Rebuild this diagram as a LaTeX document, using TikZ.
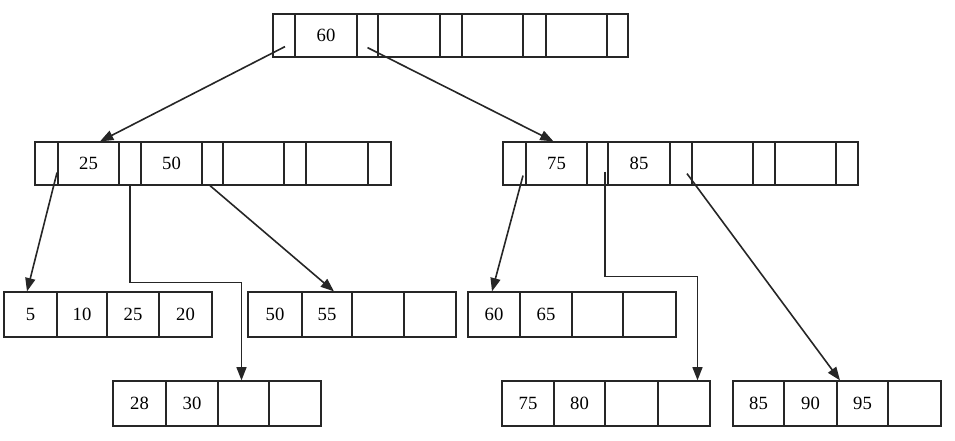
\documentclass[tikz,border=0pt]{standalone}
\usepackage{fontspec}
\setmainfont{Liberation Serif}
\usetikzlibrary{arrows.meta}
\tikzset{
  cell/.style = {rectangle, draw=black!85, line width=0.9pt, inner sep=0pt,
                 minimum height=32.25pt, font=\fontsize{14}{16}\selectfont},
  leaf/.style = {cell, minimum height=33.75pt},
  ptr/.style  = {-{Triangle[length=10pt,width=7.5pt]}, line width=1.2pt, draw=black!85},
}
\begin{document}
\begin{tikzpicture}[x=0.75pt, y=-0.75pt]
  \useasboundingbox (0,0) rectangle (955,440);

  % Root node
  \foreach \a/\b/\t [count=\i] in {273/295/{}, 295/357/60, 357/378/{}, 378/440/{},
      440/462/{}, 462/523/{}, 523/546/{}, 546/607/{}, 607/628/{}}
    \node[cell, minimum width={(\b-\a)*0.75pt}] (r\i) at ({(\a+\b)/2},35.5) {\t};

  % Second level
  \foreach \a/\b/\t [count=\i] in {35/58/{}, 58/119/25, 119/141/{}, 141/202/50,
      202/223/{}, 223/284/{}, 284/306/{}, 306/368/{}, 368/391/{}}
    \node[cell, minimum width={(\b-\a)*0.75pt}] (a\i) at ({(\a+\b)/2},163.5) {\t};
  \foreach \a/\b/\t [count=\i] in {503/526/{}, 526/587/75, 587/608/{}, 608/670/85,
      670/692/{}, 692/753/{}, 753/775/{}, 775/836/{}, 836/858/{}}
    \node[cell, minimum width={(\b-\a)*0.75pt}] (b\i) at ({(\a+\b)/2},163.5) {\t};

  % Leaves, upper row
  \foreach \a/\b/\t [count=\i] in {4/57/5, 57/107/10, 107/159/25, 159/212/20}
    \node[leaf, minimum width={(\b-\a)*0.75pt}] (la\i) at ({(\a+\b)/2},314.5) {\t};
  \foreach \a/\b/\t [count=\i] in {248/302/50, 302/352/55, 352/404/{}, 404/456/{}}
    \node[leaf, minimum width={(\b-\a)*0.75pt}] (lb\i) at ({(\a+\b)/2},314.5) {\t};
  \foreach \a/\b/\t [count=\i] in {468/520/60, 520/572/65, 572/623/{}, 623/676/{}}
    \node[leaf, minimum width={(\b-\a)*0.75pt}] (lc\i) at ({(\a+\b)/2},314.5) {\t};

  % Leaves, lower row
  \foreach \a/\b/\t [count=\i] in {113/166/28, 166/218/30, 218/269/{}, 269/321/{}}
    \node[leaf, minimum width={(\b-\a)*0.75pt}] (ld\i) at ({(\a+\b)/2},403.5) {\t};
  \foreach \a/\b/\t [count=\i] in {502/554/75, 554/605/80, 605/658/{}, 658/710/{}}
    \node[leaf, minimum width={(\b-\a)*0.75pt}] (le\i) at ({(\a+\b)/2},403.5) {\t};
  \foreach \a/\b/\t [count=\i] in {733/784/85, 784/837/90, 837/888/95, 888/941/{}}
    \node[leaf, minimum width={(\b-\a)*0.75pt}] (lf\i) at ({(\a+\b)/2},403.5) {\t};

  % Root pointers
  \draw[ptr] ([shift={(1,-11)}]r1.south) -- ([shift={(11.5,0)}]a2.north);
  \draw[ptr] ([shift={(0,-10)}]r3.south) -- ([shift={(-3,0)}]b2.north);

  % Left node pointers
  \draw[ptr] ([shift={(10.5,-13)}]a1.south) -- ([shift={(-3.5,0)}]la1.north);
  \draw[ptr] (a3.south) -- ++(0,97) -| ([shift={(-2,0)}]ld3.north);
  \draw[ptr] ([shift={(-2.5,0)}]a5.south) -- ([shift={(7,0)}]lb2.north);

  % Right node pointers
  \draw[ptr] ([shift={(8.5,-10)}]b1.south) -- ([shift={(-2,0)}]lc1.north);
  \draw[ptr] ([shift={(7.5,-14)}]b3.south) -- ++(0,105) -| ([shift={(13.5,0)}]le4.north);
  \draw[ptr] ([shift={(6,-12)}]b5.south) -- ([shift={(-22.5,0)}]lf3.north);
\end{tikzpicture}
\end{document}
